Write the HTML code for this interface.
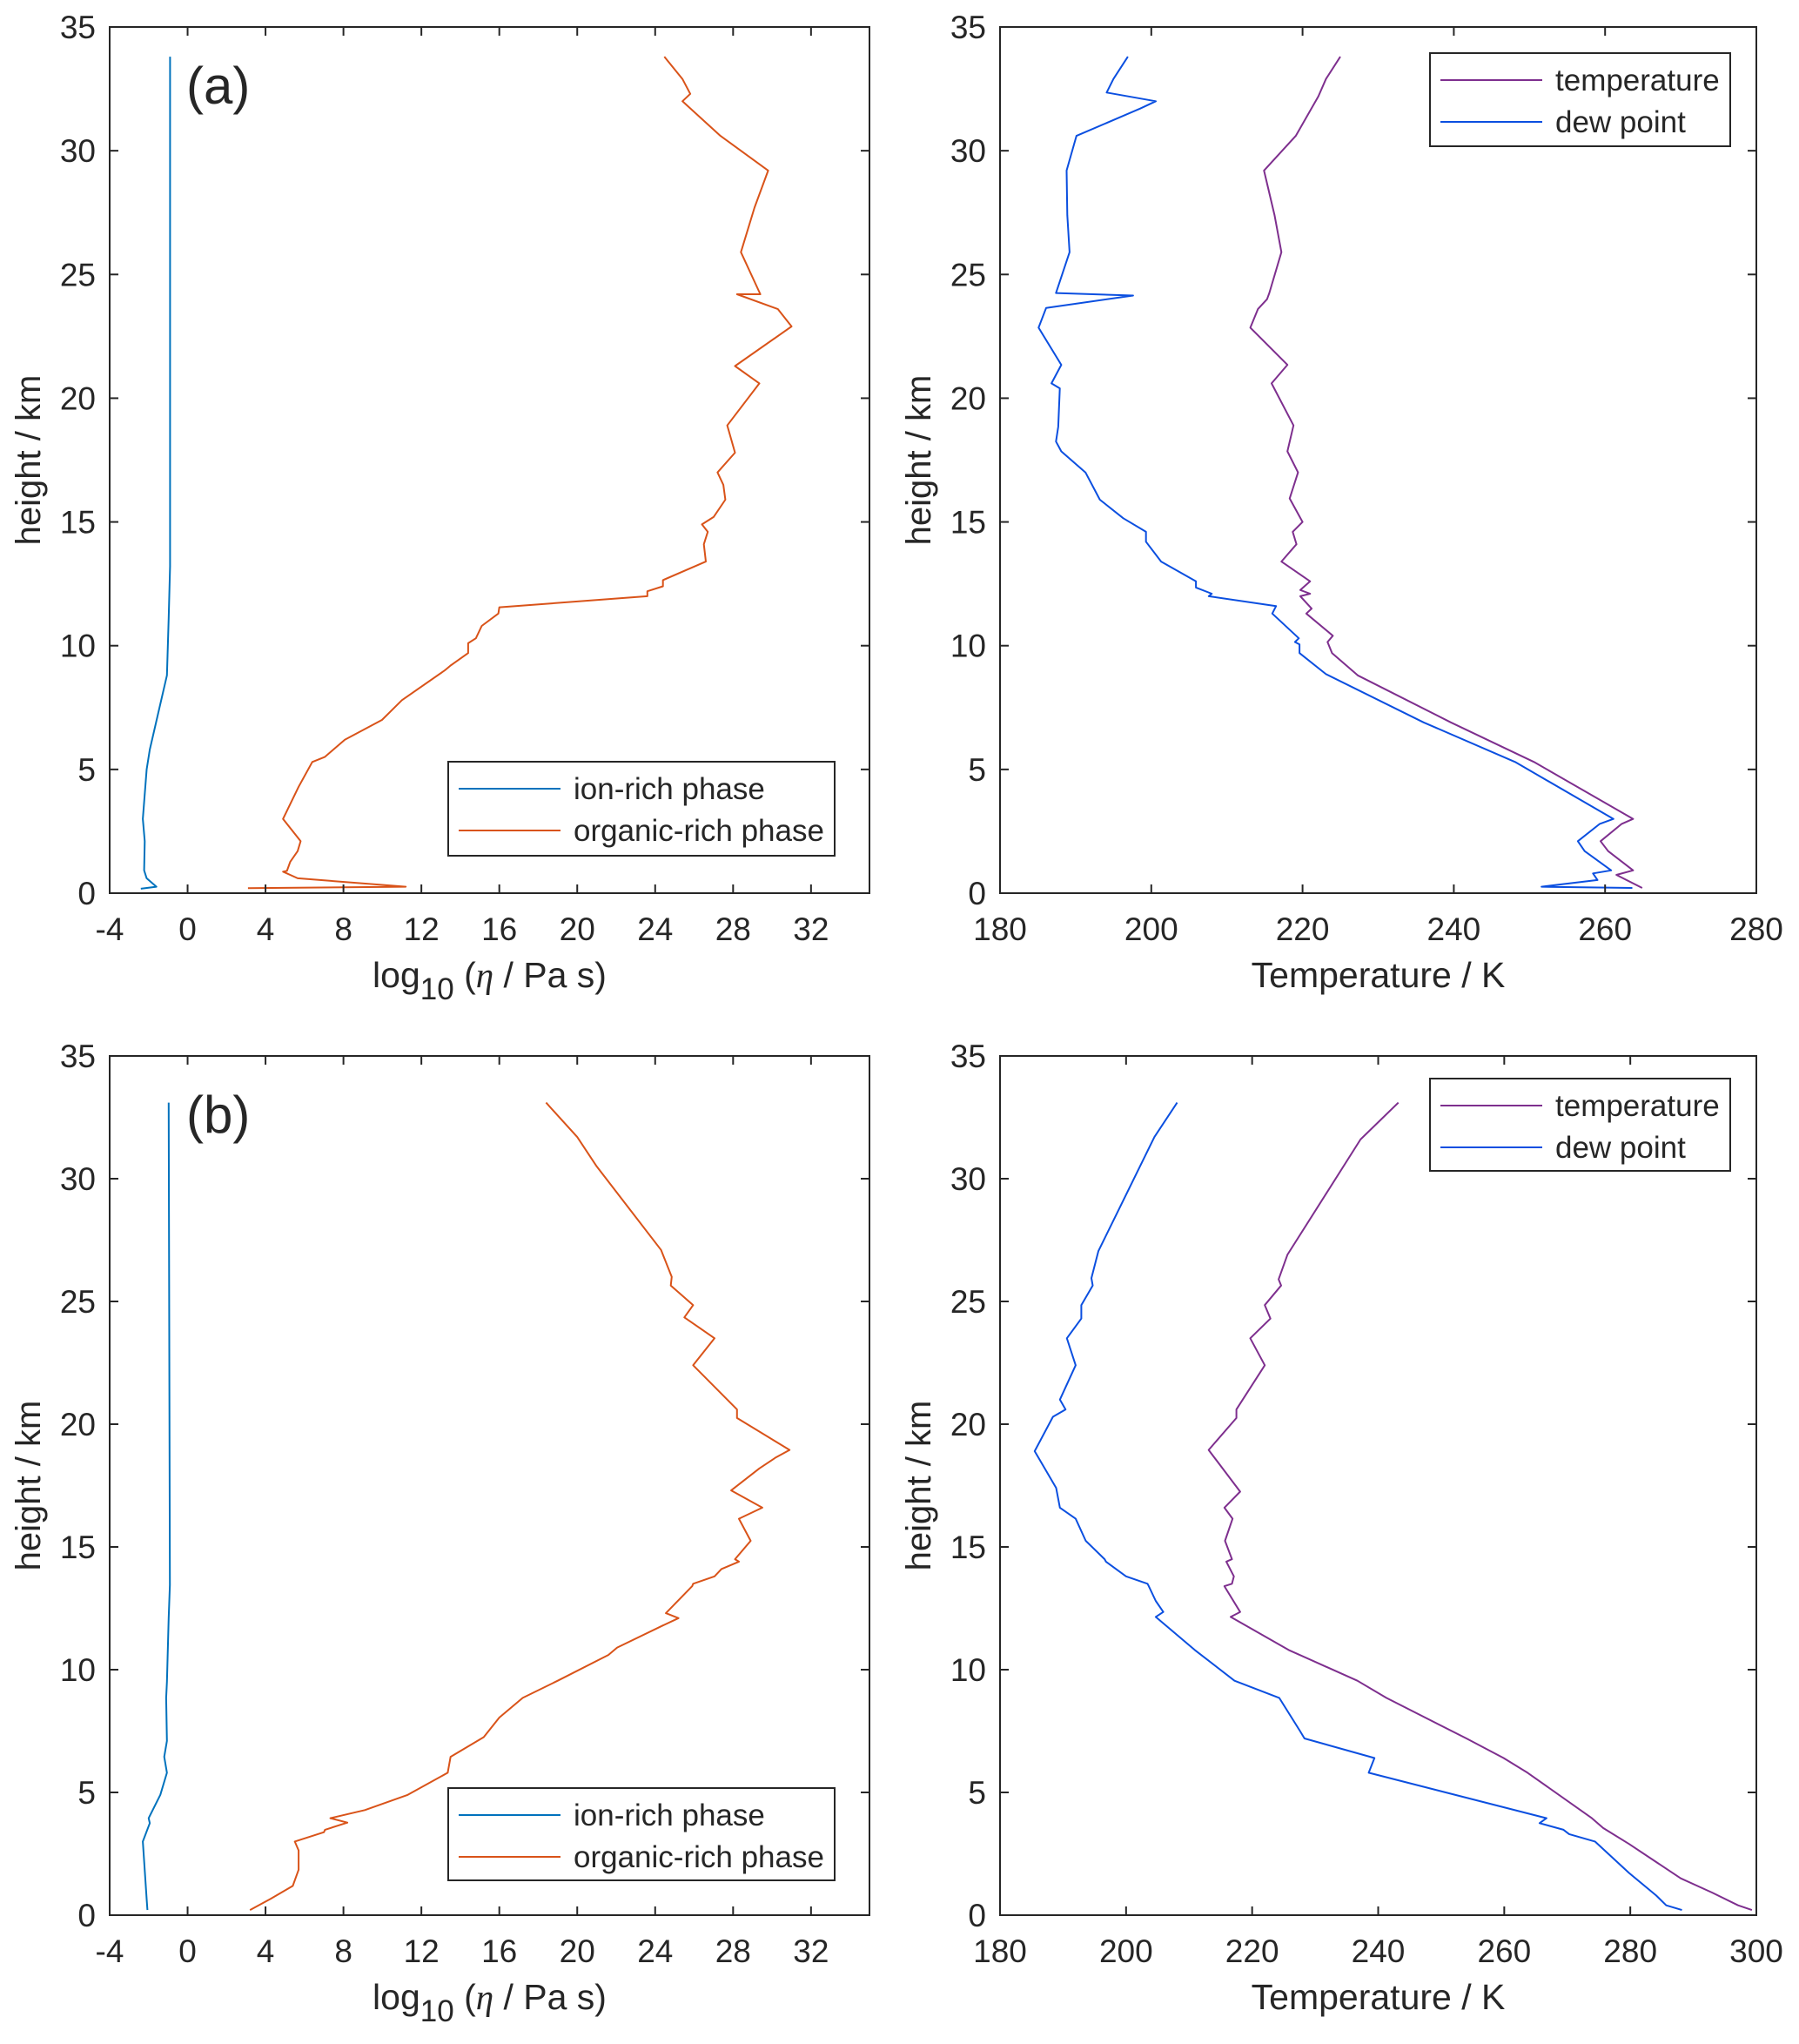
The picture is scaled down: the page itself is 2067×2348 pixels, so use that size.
<!DOCTYPE html>
<html><head><meta charset="utf-8"><style>
html,body{margin:0;padding:0;background:#fff}
svg{display:block}
text{font-family:"Liberation Sans",Arial,sans-serif;fill:#262626}
</style></head><body>
<svg id="fig" width="2067" height="2348" viewBox="0 0 2067 2348" xmlns="http://www.w3.org/2000/svg"></svg>
<script>
// ---- data ----
const ionA_x=[-0.9,-0.9,-0.97,-1.06,-1.94,-2.1,-2.3,-2.2,-2.23,-2.1,-1.6,-2.4];
const ionA_h=[33.8,13.2,11.1,8.8,5.8,5.0,3.0,2.1,0.92,0.6,0.26,0.18];
const orgA_x=[24.47,25.4,25.8,25.4,27.35,29.8,29.1,28.4,29.4,28.2,30.3,31.0,28.1,29.35,27.7,28.1,27.2,27.5,27.6,27.0,26.4,26.7,26.5,26.6,24.4,24.4,23.6,23.6,16.0,15.95,15.1,14.8,14.4,14.4,13.5,13.2,11.0,9.98,8.07,7.04,6.4,5.7,4.9,5.4,5.8,5.65,5.27,5.1,4.9,5.65,11.2,3.1];
const orgA_h=[33.8,32.9,32.3,32.0,30.6,29.2,27.7,25.9,24.2,24.2,23.6,22.9,21.3,20.6,18.9,17.8,17.0,16.5,15.9,15.2,14.9,14.6,14.1,13.4,12.65,12.4,12.2,12.0,11.55,11.3,10.8,10.3,10.1,9.7,9.2,9.0,7.8,7.0,6.2,5.5,5.3,4.3,3.0,2.5,2.1,1.7,1.27,0.9,0.87,0.6,0.26,0.2];
const tA_x=[225.0,223.1,222.1,219.1,214.9,216.3,217.2,215.6,215.3,214.1,213.1,218.0,215.9,218.8,218.0,219.4,218.3,220.0,218.7,219.2,217.2,221.0,219.7,221.0,219.7,221.2,220.5,224.0,223.3,223.9,227.3,239.6,250.6,263.7,262.2,259.4,260.4,263.7,261.5,264.9];
const tA_h=[33.8,32.9,32.2,30.6,29.2,27.4,25.9,24.25,24.0,23.6,22.85,21.35,20.6,18.9,17.85,17.0,15.95,15.0,14.6,14.1,13.4,12.6,12.25,12.1,12.0,11.5,11.3,10.4,10.15,9.7,8.8,6.9,5.3,3.0,2.8,2.1,1.7,0.92,0.74,0.21];
const dA_x=[196.9,195.0,194.1,200.6,198.5,190.1,188.8,188.9,189.2,187.4,197.6,186.1,185.1,188.1,186.8,187.9,187.7,187.4,188.1,191.3,193.2,196.3,199.3,199.3,201.3,205.9,205.9,208.0,207.6,216.5,216.0,219.5,219.0,219.6,219.6,223.1,236.0,248.1,261.1,259.3,256.4,257.3,260.8,258.4,259.0,251.6,263.6];
const dA_h=[33.8,32.9,32.35,32.0,31.7,30.6,29.2,27.4,25.9,24.25,24.15,23.65,22.85,21.35,20.6,20.4,18.85,18.25,17.85,17.0,15.9,15.15,14.6,14.2,13.4,12.6,12.35,12.1,12.0,11.6,11.3,10.3,10.15,10.05,9.7,8.85,6.9,5.3,3.0,2.8,2.1,1.7,0.92,0.8,0.53,0.26,0.21];
const ionB_x=[-0.97,-0.91,-0.97,-1.06,-1.1,-1.06,-1.2,-1.06,-1.4,-2.0,-1.94,-2.3,-2.1,-2.06];
const ionB_h=[33.1,13.45,12.1,9.5,8.85,7.1,6.45,5.8,4.9,3.95,3.75,3.0,0.66,0.21];
const orgB_x=[18.4,20.0,21.0,24.3,24.85,24.8,25.95,25.5,27.05,25.95,28.2,28.2,30.9,30.2,29.35,27.9,29.5,28.3,28.9,28.1,28.3,27.4,27.05,25.95,25.9,24.55,25.2,24.4,22.05,21.6,19.0,17.2,16.0,15.2,13.5,13.35,11.3,9.1,7.33,8.2,7.05,7.0,5.5,5.7,5.7,5.4,4.25,3.2];
const orgB_h=[33.1,31.7,30.5,27.1,26.0,25.65,24.85,24.35,23.5,22.4,20.6,20.25,18.95,18.65,18.2,17.3,16.6,16.15,15.25,14.5,14.4,14.1,13.8,13.5,13.4,12.3,12.1,11.8,10.9,10.6,9.55,8.85,8.05,7.25,6.45,5.8,4.9,4.28,3.95,3.77,3.48,3.38,3.0,2.64,1.85,1.19,0.66,0.21];
const tB_x=[243.2,237.2,225.6,224.2,224.6,222.0,222.9,219.7,222.0,217.5,217.5,213.1,218.1,215.6,216.9,215.7,216.8,215.9,217.1,216.8,215.6,218.1,216.6,225.8,236.7,241.3,254.0,259.9,263.7,273.9,275.7,279.8,288.0,293.0,297.1,299.3];
const tB_h=[33.1,31.6,26.9,25.9,25.65,24.85,24.3,23.5,22.4,20.6,20.25,18.95,17.25,16.6,16.15,15.25,14.5,14.4,13.8,13.5,13.4,12.35,12.15,10.8,9.55,8.85,7.2,6.4,5.8,3.95,3.55,2.9,1.5,0.92,0.4,0.21];
const dB_x=[208.1,204.5,195.6,194.5,194.7,192.9,192.9,190.6,192.0,189.5,190.4,188.4,185.5,188.9,189.5,192.0,193.6,196.6,196.8,200.0,203.4,203.6,204.7,205.9,204.7,210.9,217.2,224.3,227.6,228.3,239.4,238.5,266.7,265.6,269.4,270.3,274.4,279.8,284.1,285.7,288.2];
const dB_h=[33.1,31.7,27.05,25.95,25.65,24.85,24.3,23.5,22.4,21.0,20.6,20.3,18.9,17.4,16.6,16.15,15.25,14.5,14.4,13.8,13.5,13.4,12.8,12.35,12.15,10.8,9.55,8.85,7.5,7.2,6.4,5.8,3.95,3.75,3.48,3.3,3.0,1.72,0.8,0.4,0.21];
const visTicks=[-4,0,4,8,12,16,20,24,28,32];
const tempTicksA=[180,200,220,240,260,280];
const tempTicksB=[180,200,220,240,260,280,300];
const hTicks=[0,5,10,15,20,25,30,35];

const NS="http://www.w3.org/2000/svg";
const svg=document.getElementById('fig');
function mk(tag,attrs,parent,txt){const e=document.createElementNS(NS,tag);for(const k in attrs)e.setAttribute(k,attrs[k]);if(txt!==undefined)e.textContent=txt;(parent||svg).appendChild(e);return e;}

function panel(o){
  const g=mk('g',{});
  
  
  const sx=v=>o.L+(v-o.xmin)/(o.xmax-o.xmin)*(o.R-o.L);
  const sy=v=>o.B-(v-0)/(35-0)*(o.B-o.T);
  o.series.forEach(s=>{
    const pts=s.x.map((v,i)=>sx(v).toFixed(1)+','+sy(s.h[i]).toFixed(1)).join(' ');
    const p=mk('polyline',{points:pts,fill:'none',stroke:s.color,'stroke-width':2,'stroke-linejoin':'round'},g);
    
    
  });
  const fr=mk('rect',{x:o.L,y:o.T,width:o.R-o.L,height:o.B-o.T,fill:'none',stroke:'#262626','stroke-width':2},g);
  
  
  o.xticks.forEach(t=>{
    const x=sx(t);
    mk('line',{x1:x,y1:o.B,x2:x,y2:o.B-10,stroke:'#262626','stroke-width':2},g);
    mk('line',{x1:x,y1:o.T,x2:x,y2:o.T+10,stroke:'#262626','stroke-width':2},g);
    const tx=mk('text',{x:x,y:o.B+54,'font-size':37,'text-anchor':'middle'},g,String(t));
    
    
  });
  hTicks.forEach(t=>{
    const y=sy(t);
    mk('line',{x1:o.L,y1:y,x2:o.L+10,y2:y,stroke:'#262626','stroke-width':2},g);
    mk('line',{x1:o.R,y1:y,x2:o.R-10,y2:y,stroke:'#262626','stroke-width':2},g);
    const tx=mk('text',{x:o.L-16,y:y+13,'font-size':37,'text-anchor':'end'},g,String(t));
    
    
  });
  const yl=mk('text',{x:0,y:0,'font-size':40,'text-anchor':'middle',transform:`translate(${o.L-80},${(o.T+o.B)/2}) rotate(-90)`},g,'height / km');
  
  
  const xl=mk('text',{x:(o.L+o.R)/2,y:o.B+108,'font-size':41,'text-anchor':'middle'},g);
  
  
  if(o.vis){
    mk('tspan',{},xl,'log');
    mk('tspan',{'font-size':35,dy:14},xl,'10');
    mk('tspan',{dy:-14},xl,' (');
    mk('tspan',{'font-family':'Liberation Serif','font-style':'italic'},xl,'η');
    mk('tspan',{},xl,' / Pa s)');
  } else xl.textContent='Temperature / K';
  if(o.tag){
    const tg=mk('text',{x:o.L+88,y:o.T+88,'font-size':60},g,o.tag);
    
    
  }
  const lg=mk('g',{},g);
  
  
  mk('rect',{x:o.lg.x,y:o.lg.y,width:o.lg.w,height:o.lg.h,fill:'#fff',stroke:'#262626','stroke-width':2},lg);
  o.series.forEach((s,i)=>{
    const ry=o.lg.y+31+i*48;
    const e=mk('g',{},lg);
    
    
    mk('line',{x1:o.lg.x+12,y1:ry,x2:o.lg.x+129,y2:ry,stroke:s.color,'stroke-width':2},e);
    mk('text',{x:o.lg.x+144,y:ry+12,'font-size':35},e,s.label);
  });
}
const ORG='#D95319',ION='#0072BD',TMP='#7E2F8E',DEW='#0B4FE0';
panel({name:'panel-a-viscosity',L:126,R:999,T:31,B:1026,xmin:-4,xmax:35,xticks:visTicks,vis:true,tag:'(a)',
  lg:{x:515,y:875,w:444,h:108},
  series:[{id:'ion-rich-line-a',x:ionA_x,h:ionA_h,color:ION,label:'ion-rich phase'},{id:'organic-rich-line-a',x:orgA_x,h:orgA_h,color:ORG,label:'organic-rich phase'}]});
panel({name:'panel-a-temperature',L:1149,R:2018,T:31,B:1026,xmin:180,xmax:280,xticks:tempTicksA,vis:false,
  lg:{x:1643,y:61,w:345,h:107},
  series:[{id:'temperature-line-a',x:tA_x,h:tA_h,color:TMP,label:'temperature'},{id:'dew-point-line-a',x:dA_x,h:dA_h,color:DEW,label:'dew point'}]});
panel({name:'panel-b-viscosity',L:126,R:999,T:1213,B:2200,xmin:-4,xmax:35,xticks:visTicks,vis:true,tag:'(b)',
  lg:{x:515,y:2054,w:444,h:106},
  series:[{id:'ion-rich-line-b',x:ionB_x,h:ionB_h,color:ION,label:'ion-rich phase'},{id:'organic-rich-line-b',x:orgB_x,h:orgB_h,color:ORG,label:'organic-rich phase'}]});
panel({name:'panel-b-temperature',L:1149,R:2018,T:1213,B:2200,xmin:180,xmax:300,xticks:tempTicksB,vis:false,
  lg:{x:1643,y:1239,w:345,h:106},
  series:[{id:'temperature-line-b',x:tB_x,h:tB_h,color:TMP,label:'temperature'},{id:'dew-point-line-b',x:dB_x,h:dB_h,color:DEW,label:'dew point'}]});
</script>
</body></html>
